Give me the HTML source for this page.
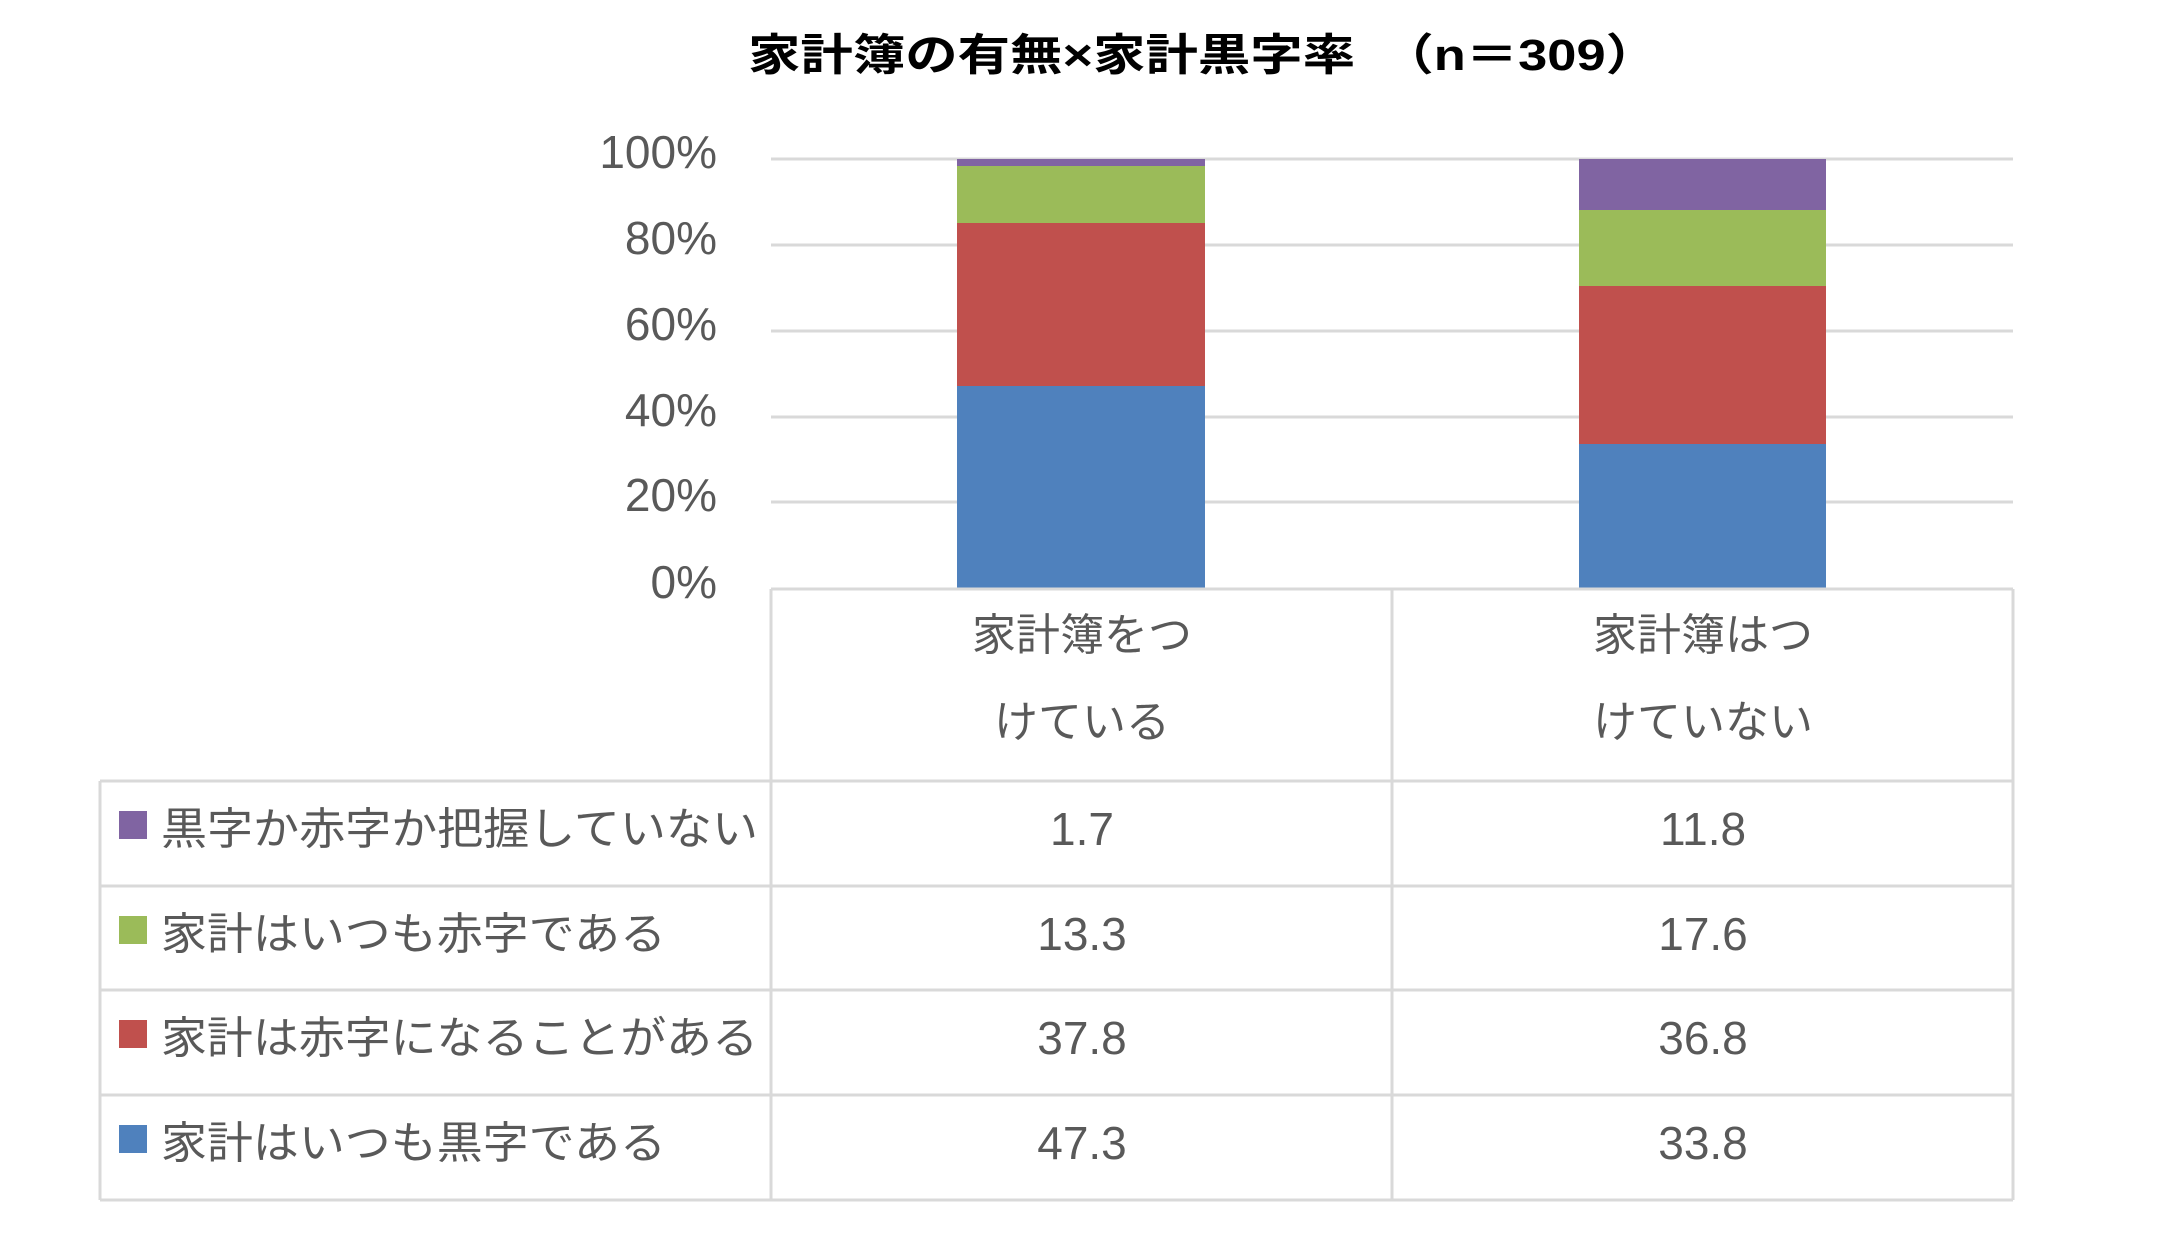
<!DOCTYPE html>
<html><head><meta charset="utf-8"><style>
html,body{margin:0;padding:0;background:#fff;}
svg{display:block;}
text{font-family:"Liberation Sans","Noto Sans CJK JP",sans-serif;fill:#595959;}
</style></head><body>
<svg width="2157" height="1243" viewBox="0 0 2157 1243" xmlns="http://www.w3.org/2000/svg">
<rect width="2157" height="1243" fill="#fff"/>
<text x="748" y="70" font-size="44" font-weight="bold" style="fill:#000" textLength="910" lengthAdjust="spacingAndGlyphs">家計簿の有無×家計黒字率　（n＝309）</text>
<g stroke="#d9d9d9" stroke-width="3">
<line x1="771" y1="159" x2="2013" y2="159"/>
<line x1="771" y1="245" x2="2013" y2="245"/>
<line x1="771" y1="331" x2="2013" y2="331"/>
<line x1="771" y1="417" x2="2013" y2="417"/>
<line x1="771" y1="502" x2="2013" y2="502"/>
</g>
<g font-size="46" text-anchor="end">
<text x="717" y="168">100%</text>
<text x="717" y="254">80%</text>
<text x="717" y="340">60%</text>
<text x="717" y="426">40%</text>
<text x="717" y="511">20%</text>
<text x="717" y="598">0%</text>
</g>
<rect x="957" y="386" width="248" height="203" fill="#4f81bd"/>
<rect x="957" y="223" width="248" height="163" fill="#c0504d"/>
<rect x="957" y="166" width="248" height="57" fill="#9bbb59"/>
<rect x="957" y="159" width="248" height="7" fill="#8064a2"/>
<rect x="1579" y="444" width="247" height="145" fill="#4f81bd"/>
<rect x="1579" y="286" width="247" height="158" fill="#c0504d"/>
<rect x="1579" y="210" width="247" height="76" fill="#9bbb59"/>
<rect x="1579" y="159" width="247" height="51" fill="#8064a2"/>
<g stroke="#d9d9d9" stroke-width="3" fill="none">
<line x1="771" y1="589" x2="2013" y2="589"/>
<line x1="771" y1="589" x2="771" y2="1200"/>
<line x1="1392" y1="589" x2="1392" y2="1200"/>
<line x1="2013" y1="589" x2="2013" y2="1200"/>
<line x1="100" y1="781" x2="100" y2="1200"/>
<line x1="100" y1="781" x2="2013" y2="781"/>
<line x1="100" y1="886" x2="2013" y2="886"/>
<line x1="100" y1="990" x2="2013" y2="990"/>
<line x1="100" y1="1095" x2="2013" y2="1095"/>
<line x1="100" y1="1200" x2="2013" y2="1200"/>
</g>
<g font-size="44" text-anchor="middle">
<text x="1082" y="650">家計簿をつ</text>
<text x="1082" y="737">けている</text>
<text x="1703" y="650">家計簿はつ</text>
<text x="1703" y="737">けていない</text>
</g>
<rect x="119" y="811" width="28" height="28" fill="#8064a2"/>
<rect x="119" y="916" width="28" height="28" fill="#9bbb59"/>
<rect x="119" y="1020" width="28" height="28" fill="#c0504d"/>
<rect x="119" y="1125" width="28" height="28" fill="#4f81bd"/>
<g font-size="44">
<text x="161" y="844" textLength="597" lengthAdjust="spacingAndGlyphs">黒字か赤字か把握していない</text>
<text x="161" y="949" textLength="505" lengthAdjust="spacingAndGlyphs">家計はいつも赤字である</text>
<text x="161" y="1053" textLength="597" lengthAdjust="spacingAndGlyphs">家計は赤字になることがある</text>
<text x="161" y="1158" textLength="505" lengthAdjust="spacingAndGlyphs">家計はいつも黒字である</text>
</g>
<g font-size="46" text-anchor="middle">
<text x="1082" y="845">1.7</text>
<text x="1703" y="845">11.8</text>
<text x="1082" y="950">13.3</text>
<text x="1703" y="950">17.6</text>
<text x="1082" y="1054">37.8</text>
<text x="1703" y="1054">36.8</text>
<text x="1082" y="1159">47.3</text>
<text x="1703" y="1159">33.8</text>
</g>
</svg>
</body></html>
